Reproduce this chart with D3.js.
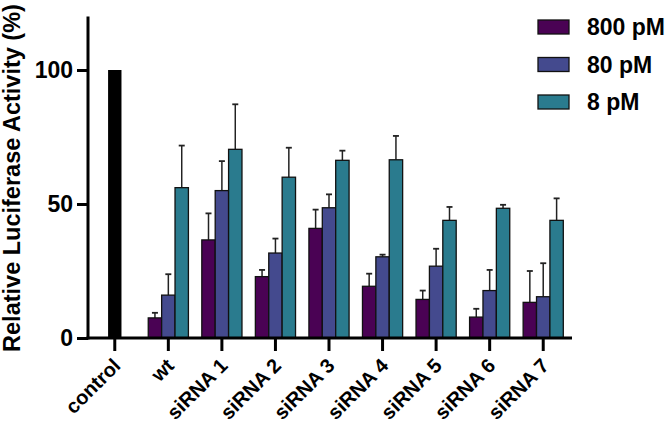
<!DOCTYPE html>
<html>
<head>
<style>
  body { margin: 0; background: #fff; }
  text { font-family: "Liberation Sans", Arial, sans-serif; font-weight: bold; }
</style>
<script src="https://d3js.org/d3.v7.min.js"></script>
</head>
<body>
<script>
const categories = ["control", "wt", "siRNA 1", "siRNA 2", "siRNA 3", "siRNA 4", "siRNA 5", "siRNA 6", "siRNA 7"];
const seriesNames = ["800 pM", "80 pM", "8 pM"];
const controlValue = 100;
// means per group (wt .. siRNA 7)
const pM800 = [7.5, 36.6, 22.9, 40.9, 19.3, 14.4, 7.8, 13.3];
const pM80 = [16.0, 55.0, 31.7, 48.6, 30.3, 26.8, 17.7, 15.4];
const pM8 = [56.1, 70.4, 60.0, 66.3, 66.5, 43.9, 48.4, 43.9];
// upper error bar ends
const err800 = [9.4, 46.5, 25.4, 47.9, 24.0, 17.7, 10.9, 25.0];
const err80 = [23.8, 66.0, 37.1, 53.6, 31.1, 33.3, 25.4, 27.9];
const err8 = [71.8, 87.2, 71.0, 69.9, 75.4, 48.9, 49.7, 52.1];
const yTicks = [0, 50, 100];
const colors = ["#4a0254", "#444a8e", "#2a7b8e"];

const w = 666, h = 424;
const svg = d3.select("body").append("svg").attr("width", w).attr("height", h);

const x = d3.scaleBand().domain(categories).range([88, 570]);
const y = d3.scaleLinear().domain([0, 120]).range([338, 16.4]);
const inner = d3.scaleBand().domain(seriesNames).range([0, x.bandwidth() * 0.75]);

const groups = categories.slice(1).map((c, i) => ({
  cat: c,
  vals: [pM800[i], pM80[i], pM8[i]],
  errs: [err800[i], err80[i], err8[i]]
}));

// control bar
const bw = inner.bandwidth();
svg.append("rect")
  .attr("x", x("control") + x.bandwidth() / 2 - bw / 2)
  .attr("y", y(controlValue))
  .attr("width", bw)
  .attr("height", y(0) - y(controlValue))
  .attr("fill", "#000");

const g = svg.selectAll(".grp").data(groups).enter().append("g")
  .attr("transform", d => `translate(${x(d.cat) + x.bandwidth() * 0.125},0)`);

const bars = g.selectAll(".b").data(d => d.vals.map((v, k) => ({v, e: d.errs[k], k}))).enter();

bars.append("line")
  .attr("x1", d => inner(seriesNames[d.k]) + bw / 2)
  .attr("x2", d => inner(seriesNames[d.k]) + bw / 2)
  .attr("y1", d => y(d.v))
  .attr("y2", d => y(d.e))
  .attr("stroke", "#222").attr("stroke-width", 1.5);
bars.append("line")
  .attr("x1", d => inner(seriesNames[d.k]) + bw / 2 - 3)
  .attr("x2", d => inner(seriesNames[d.k]) + bw / 2 + 3)
  .attr("y1", d => y(d.e))
  .attr("y2", d => y(d.e))
  .attr("stroke", "#222").attr("stroke-width", 1.8);
bars.append("rect")
  .attr("x", d => inner(seriesNames[d.k]))
  .attr("y", d => y(d.v))
  .attr("width", bw)
  .attr("height", d => y(0) - y(d.v))
  .attr("fill", d => colors[d.k])
  .attr("stroke", "#111").attr("stroke-width", 1.3);

// axes
const yAxis = svg.append("g").attr("transform", "translate(88,0)")
  .call(d3.axisLeft(y).tickValues(yTicks).tickSize(11).tickSizeOuter(0).tickPadding(4));
yAxis.select(".domain").attr("stroke-width", 3).attr("d", `M0,${y(0) + 1.5}V${y(120)}`);
yAxis.selectAll(".tick line").attr("stroke-width", 3);
yAxis.selectAll(".tick text").attr("font-size", 23).attr("fill", "#000").attr("font-family", "Liberation Sans, Arial, sans-serif");

const xAxis = svg.append("g").attr("transform", "translate(0,338)")
  .call(d3.axisBottom(x).tickSize(13).tickSizeOuter(0).tickPadding(2));
xAxis.select(".domain").attr("stroke-width", 3).attr("d", "M86.5,0H572");
xAxis.selectAll(".tick line").attr("stroke-width", 3);
xAxis.selectAll(".tick text")
  .attr("font-size", 20).attr("fill", "#000")
  .attr("font-family", "Liberation Sans, Arial, sans-serif")
  .attr("text-anchor", "end")
  .attr("transform", "translate(2,24) rotate(-45)")
  .attr("dy", "0.35em").attr("y", 0).attr("x", 0);

svg.append("text")
  .attr("transform", "translate(20,178) rotate(-90)")
  .attr("text-anchor", "middle")
  .attr("font-size", 23.5)
  .text("Relative Luciferase Activity (%)");

// legend
const leg = svg.selectAll(".leg").data(seriesNames).enter().append("g")
  .attr("transform", (d, i) => `translate(538,${20 + i * 37.5})`);
leg.append("rect").attr("width", 31).attr("height", 14)
  .attr("fill", (d, i) => colors[i]).attr("stroke", "#111").attr("stroke-width", 1.3);
leg.append("text").attr("x", 49).attr("y", 15).attr("font-size", 23).text(d => d);
</script>
</body>
</html>
